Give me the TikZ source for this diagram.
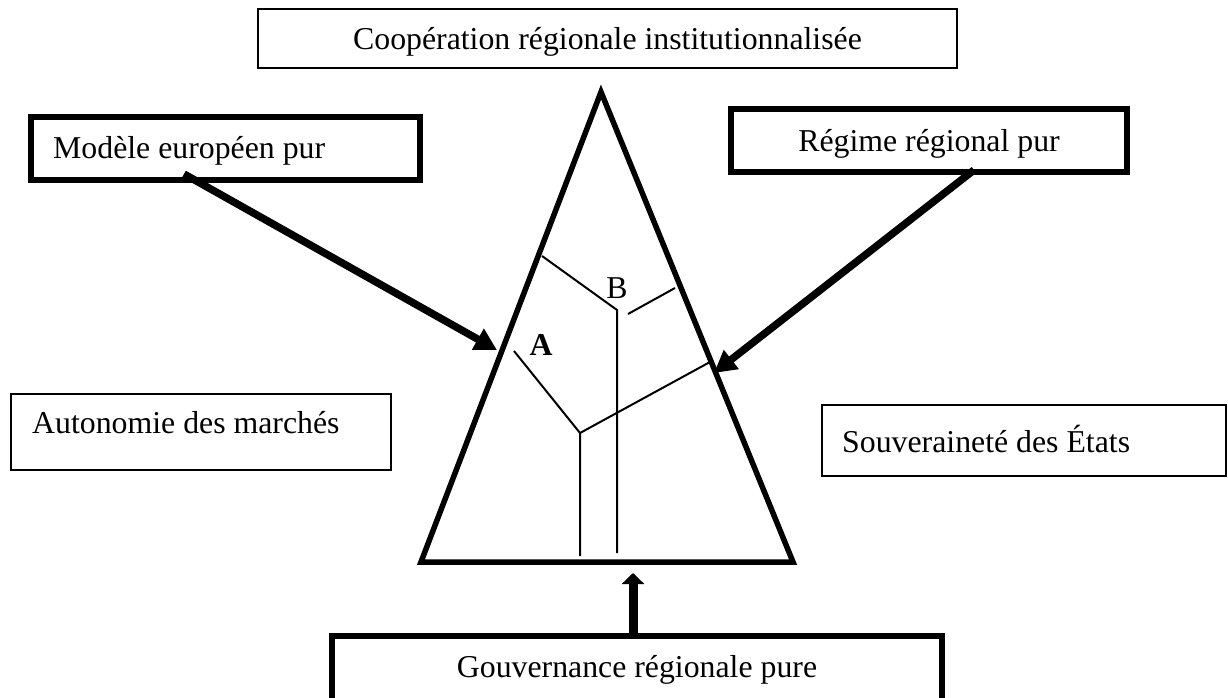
\documentclass[tikz,border=0pt]{standalone}
\usepackage{fontspec}
\setmainfont{Liberation Serif}
\usetikzlibrary{arrows.meta}
\begin{document}
\begin{tikzpicture}[x=1pt,y=-1pt,
  txt/.style={font=\fontsize{31.8pt}{38pt}\selectfont, inner sep=0pt},
  thinbox/.style={draw, line width=1.5pt, inner sep=0pt},
  thickbox/.style={draw, line width=5.5pt, inner sep=0pt},
  tri/.style={line width=5.5pt},
  tree/.style={line width=2pt},
  bigarrow/.style={line width=7.5pt, -{Triangle[length=22pt,width=23pt]}},
  uparrow/.style={line width=9pt, -{Triangle[length=11pt,width=22pt]}},
]
\useasboundingbox (0,0) rectangle (1228,698);
\clip (0,0) rectangle (1228,698);

% boxes
\node (top) [thinbox, minimum width=699pt, minimum height=59pt] at (607.5,38.5) {};
\node (mod) [thickbox, minimum width=389pt, minimum height=63pt] at (225.5,148.5) {};
\node (reg) [thickbox, minimum width=396pt, minimum height=63pt] at (929,140.5) {};
\node (aut) [thinbox, minimum width=380pt, minimum height=76pt] at (201,432) {};
\node (sou) [thinbox, minimum width=404pt, minimum height=71pt] at (1024,440.5) {};
\node (gov) [thickbox, minimum width=610pt, minimum height=94pt] at (637,683) {};

% texts
\node (ttop) [txt, anchor=base] at (607.5,50) {Coopération régionale institutionnalisée};
\node (tmod) [txt, anchor=base west] at (53,158) {Modèle européen pur};
\node (treg) [txt, anchor=base] at (929,151) {Régime régional pur};
\node (taut) [txt, anchor=base west] at (32,433) {Autonomie des marchés};
\node (tsou) [txt, anchor=base west] at (842,452) {Souveraineté des États};
\node (tgov) [txt, anchor=base] at (637,677) {Gouvernance régionale pure};

% triangle
\coordinate (apex) at (601,92);
\coordinate (bl) at (421,562);
\coordinate (br) at (793,562);
\draw[tri] (bl) -- (apex) -- (br) -- cycle;

% inner tree
\draw[tree] (542,256) -- (617,310) -- (617,553);
\draw[tree] (628,314) -- (675,288);
\draw[tree] (514,351) -- (580,433) -- (580,556);
\draw[tree] (580,433) -- (710,362);
\node (la) [txt, anchor=base, font=\fontsize{31.8pt}{38pt}\selectfont\bfseries] at (541,355) {A};
\node (lb) [txt, anchor=base] at (617,298) {B};

% arrows
\coordinate (ms) at (184,174);
\coordinate (mt) at (497,350);
\coordinate (rs) at (974,170);
\coordinate (rt) at (714,373);
\coordinate (gs) at (633,636);
\coordinate (gt) at (633,573);
\draw[bigarrow] (ms) -- (mt);
\draw[bigarrow] (rs) -- (rt);
\draw[uparrow] (gs) -- (gt);
\end{tikzpicture}
\end{document}
